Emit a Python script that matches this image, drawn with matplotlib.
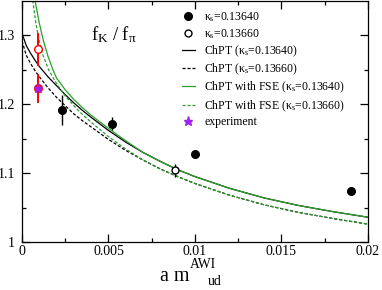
import matplotlib
matplotlib.use("Agg")
import matplotlib.pyplot as plt
from matplotlib.lines import Line2D

plt.rcParams["font.family"] = ["Liberation Serif", "DejaVu Serif"]
plt.rcParams["mathtext.fontset"] = "custom"
plt.rcParams["mathtext.rm"] = "Liberation Serif"
plt.rcParams["mathtext.it"] = "Liberation Serif"

# lattice data
m_1364 = [0.00229, 0.00518, 0.01003, 0.01900]
f_1364 = [1.192, 1.172, 1.128, 1.074]
e_1364 = [0.022, 0.009, 0.004, 0.003]

m_1366 = [0.00883]
f_1366 = [1.104]
e_1366 = [0.0095]

# extrapolated values (red)
m_phys = [0.00095]
f_phys_1366 = [1.280]
e_phys_1366 = [0.024]
f_phys_1364 = [1.223]
e_phys_1364 = [0.021]

# experiment
m_exp = [0.00095]
f_exp = [1.223]

# fit curves
chpt_x = [0, 0.00025, 0.0005, 0.00075, 0.001, 0.0015, 0.002, 0.0025, 0.003,
          0.0035, 0.004, 0.005, 0.006, 0.007, 0.008, 0.009, 0.010, 0.012,
          0.014, 0.016, 0.018, 0.020]
chpt_y_1364 = [1.303, 1.285, 1.274, 1.264, 1.255, 1.240, 1.227, 1.214, 1.202,
               1.191, 1.181, 1.162, 1.145, 1.130, 1.117, 1.105, 1.095, 1.078,
               1.064, 1.053, 1.044, 1.036]
chpt_y_1366 = [1.292, 1.271, 1.259, 1.249, 1.240, 1.224, 1.210, 1.198, 1.186,
               1.176, 1.167, 1.149, 1.133, 1.119, 1.106, 1.095, 1.085, 1.068,
               1.054, 1.043, 1.034, 1.026]
fse_x_1364 = [0.00075, 0.001, 0.0012, 0.0015, 0.00179, 0.002, 0.0025, 0.003,
              0.0035, 0.004, 0.005, 0.006, 0.007, 0.008, 0.009, 0.010, 0.012,
              0.014, 0.016, 0.018, 0.020]
fse_y_1364 = [1.351, 1.318, 1.296, 1.270, 1.250, 1.238, 1.221, 1.207,
              1.195, 1.184, 1.165, 1.147, 1.130, 1.117, 1.105, 1.095, 1.078,
              1.064, 1.053, 1.044, 1.036]
fse_x_1366 = [0.00062, 0.0008, 0.001, 0.0012, 0.00156, 0.002, 0.0025, 0.003,
              0.0035, 0.004, 0.005, 0.006, 0.007, 0.008, 0.009, 0.010, 0.012,
              0.014, 0.016, 0.018, 0.020]
fse_y_1366 = [1.351, 1.318, 1.292, 1.272, 1.249, 1.230, 1.212, 1.198,
              1.185, 1.174, 1.153, 1.135, 1.119, 1.106, 1.095, 1.085, 1.068,
              1.054, 1.043, 1.034, 1.026]

x_ticks = [0, 0.005, 0.01, 0.015, 0.02]
x_labels = ["0", "0.005", "0.01", "0.015", "0.02"]
y_ticks = [1.0, 1.1, 1.2, 1.3]
y_labels = ["1", "1.1", "1.2", "1.3"]

green = "#2ca02c"
purple = "#a020f0"
dash = (0, (2.5, 1.5))

fig = plt.figure(figsize=(3.82, 2.90), dpi=100)
ax = fig.add_axes([0.0576, 0.1655, 0.9054, 0.831])

ax.plot(chpt_x, chpt_y_1364, color="black", lw=0.9)
ax.plot(chpt_x, chpt_y_1366, color="black", lw=0.9, ls=dash)
ax.plot(fse_x_1364, fse_y_1364, color=green, lw=0.9)
ax.plot(fse_x_1366, fse_y_1366, color=green, lw=0.9, ls=dash)

ax.errorbar(m_1364, f_1364, yerr=e_1364, fmt="o", color="black", ms=5.5,
            elinewidth=1, capsize=0, zorder=5)
ax.errorbar(m_1366, f_1366, yerr=e_1366, fmt="o", color="black",
            mfc="white", ms=5, mew=1, elinewidth=1, capsize=0, zorder=5)

ax.errorbar(m_phys, f_phys_1366, yerr=e_phys_1366, fmt="o", color="red",
            mfc="white", ms=5.5, mew=1, elinewidth=1.4, capsize=0, zorder=6)
ax.errorbar(m_phys, f_phys_1364, yerr=e_phys_1364, fmt="o", color="red",
            ms=5.5, elinewidth=1.4, capsize=0, zorder=6)
ax.plot(m_exp, f_exp, ls="none", marker="*", color=purple, ms=6.5, zorder=7)

ax.set_xlim(0, 0.02)
ax.set_ylim(1.0, 1.35)
ax.set_xticks(x_ticks)
ax.set_xticklabels(x_labels)
ax.set_yticks(y_ticks)
ax.set_yticklabels(y_labels)
ax.set_xticks([0.0025, 0.0075, 0.0125, 0.0175], minor=True)
ax.set_yticks([1.05, 1.15, 1.25], minor=True)
ax.tick_params(which="both", direction="in", top=True, right=True,
               labelsize=10, width=0.9)
ax.tick_params(which="major", length=5.8)
ax.tick_params(which="minor", length=3)
ax.tick_params(axis="y", pad=5)
ax.tick_params(axis="x", pad=2.5)
for s in ax.spines.values():
    s.set_linewidth(0.9)

ax.text(0.199, 0.838, r"f$_{\rm K}$ / f$_{\pi}$", transform=ax.transAxes,
        fontsize=13.5, va="baseline")

handles = [
    Line2D([], [], ls="none", marker="o", color="black", ms=5.5),
    Line2D([], [], ls="none", marker="o", color="black", mfc="white", ms=5, mew=1),
    Line2D([], [], color="black", lw=0.9),
    Line2D([], [], color="black", lw=0.9, ls=dash),
    Line2D([], [], color=green, lw=0.9),
    Line2D([], [], color=green, lw=0.9, ls=dash),
    Line2D([], [], ls="none", marker="*", color=purple, ms=6.5),
]
labels = [r"$\kappa_{\rm s}$=0.13640", r"$\kappa_{\rm s}$=0.13660",
          r"ChPT ($\kappa_{\rm s}$=0.13640)", r"ChPT ($\kappa_{\rm s}$=0.13660)",
          r"ChPT with FSE ($\kappa_{\rm s}$=0.13640)",
          r"ChPT with FSE ($\kappa_{\rm s}$=0.13660)", "experiment"]
ax.legend(handles, labels, loc="upper left", bbox_to_anchor=(0.462, 0.962),
          frameon=False, fontsize=8.5, handlelength=1.1, handletextpad=0.8,
          labelspacing=0.24, borderpad=0, borderaxespad=0)

fig.text(0.419, 0.031, "a m", fontsize=14.5, va="baseline")
fig.text(0.497, 0.076, "AWI", fontsize=9.8, va="baseline")
fig.text(0.545, 0.017, "ud", fontsize=10, va="baseline")

fig.savefig("out.png", dpi=100)
